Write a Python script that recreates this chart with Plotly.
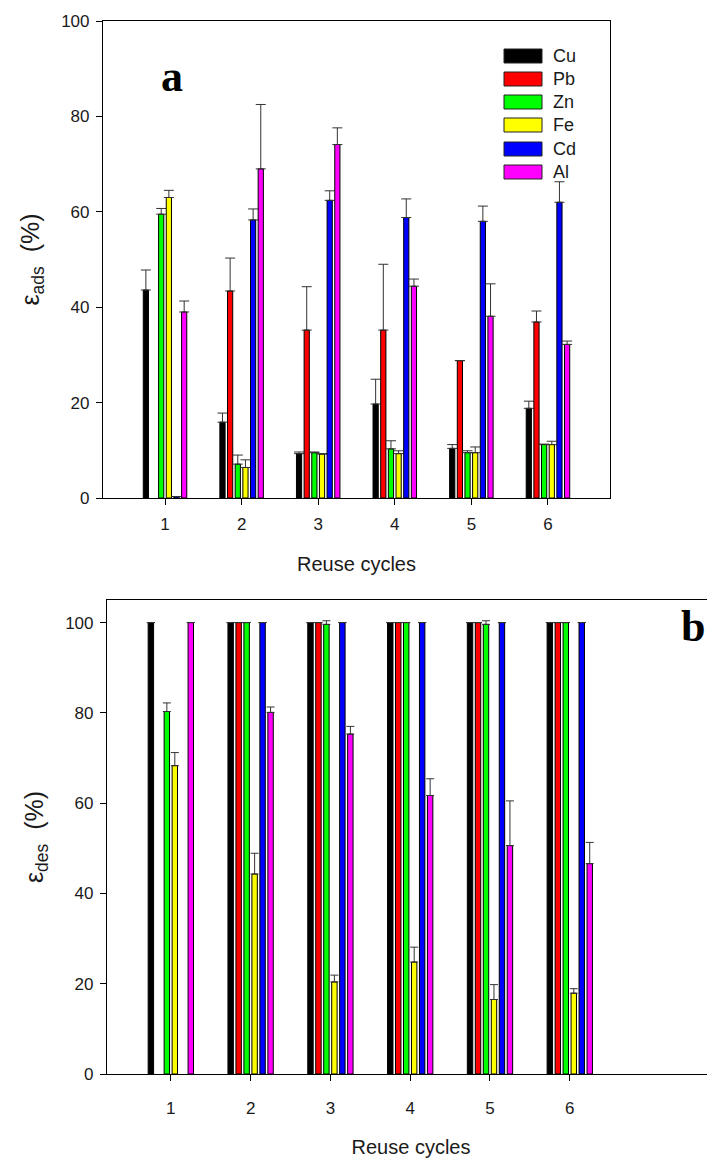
import plotly.graph_objects as go

# The page body has an 8px default margin, so the figure is sized to fit the window.
OFF = 8
W, H = 715 - OFF, 1158 - OFF

cycles = [1, 2, 3, 4, 5, 6]
metals = ["Cu", "Pb", "Zn", "Fe", "Cd", "Al"]
colors = ["#000000", "#FF0000", "#00FF00", "#FFFF00", "#0000FF", "#FF00FF"]

# Panel a: adsorption efficiency (%)
ads_Cu = [43.6, 15.9, 9.3, 19.7, 10.4, 18.8]
ads_Pb = [None, 43.4, 35.2, 35.2, 28.8, 36.9]
ads_Zn = [59.5, 7.1, 9.5, 10.3, 9.5, 11.2]
ads_Fe = [63.0, 6.4, 9.2, 9.3, 9.5, 11.2]
ads_Cd = [0.3, 58.3, 62.4, 58.8, 58.0, 62.0]
ads_Al = [39.0, 69.0, 74.1, 44.4, 38.1, 32.2]

ads_err_Cu = [4.2, 1.9, 0.35, 5.2, 0.8, 1.5]
ads_err_Pb = [None, 6.9, 9.1, 13.8, None, 2.3]
ads_err_Zn = [1.2, 1.9, 0.15, 1.7, 0.4, 0.1]
ads_err_Fe = [1.5, 1.6, 0.1, 0.6, 1.2, 0.7]
ads_err_Cd = [None, 2.3, 2.0, 3.9, 3.2, 4.3]
ads_err_Al = [2.3, 13.5, 3.5, 1.5, 6.8, 0.7]

# Panel b: desorption efficiency (%)
des_Cu = [100, 100, 100, 100, 100, 100]
des_Pb = [None, 100, 100, 100, 100, 100]
des_Zn = [80.3, 100, 99.6, 100, 99.6, 100]
des_Fe = [68.3, 44.3, 20.4, 24.8, 16.5, 17.9]
des_Cd = [None, 100, 100, 100, 100, 100]
des_Al = [100, 80.1, 75.3, 61.7, 50.6, 46.6]

des_err_Cu = [None] * 6
des_err_Pb = [None] * 6
des_err_Zn = [1.9, None, 0.8, None, 0.8, None]
des_err_Fe = [2.9, 4.6, 1.5, 3.3, 3.3, 1.0]
des_err_Cd = [None] * 6
des_err_Al = [None, 1.2, 1.7, 3.7, 9.9, 4.7]

ads = [ads_Cu, ads_Pb, ads_Zn, ads_Fe, ads_Cd, ads_Al]
ads_err = [ads_err_Cu, ads_err_Pb, ads_err_Zn, ads_err_Fe, ads_err_Cd, ads_err_Al]
des = [des_Cu, des_Pb, des_Zn, des_Fe, des_Cd, des_Al]
des_err = [des_err_Cu, des_err_Pb, des_err_Zn, des_err_Fe, des_err_Cd, des_err_Al]

yticks_a = [0, 20, 40, 60, 80, 100]
yticks_b = [0, 20, 40, 60, 80, 100]

FONT = "Liberation Sans, Arial, sans-serif"
SERIF = "Liberation Serif, Times New Roman, serif"
TXT = "#1a1a1a"

fig = go.Figure()

for name, col, vals, errs in zip(metals, colors, ads, ads_err):
    fig.add_trace(go.Bar(
        x=cycles, y=vals, name=name, xaxis="x", yaxis="y",
        marker=dict(color=col, line=dict(color="#000000", width=1)),
        error_y=dict(type="data", array=errs, symmetric=False, arrayminus=[0] * 6,
                     color="#333333", thickness=1, width=5, visible=True),
        showlegend=False,
    ))

for name, col, vals, errs in zip(metals, colors, des, des_err):
    fig.add_trace(go.Bar(
        x=cycles, y=vals, name=name, xaxis="x2", yaxis="y2",
        marker=dict(color=col, line=dict(color="#000000", width=1)),
        error_y=dict(type="data", array=errs, symmetric=False, arrayminus=[0] * 6,
                     color="#333333", thickness=1, width=4, visible=True),
        showlegend=False,
    ))

def px_x(p):
    return (p - OFF) / W

def px_y(p):
    return 1 - (p - OFF) / H

axis_common = dict(showline=True, linecolor="#000000", linewidth=1.2,
                   ticks="outside", ticklen=6, tickcolor="#000000", tickwidth=1,
                   showgrid=False, zeroline=False, automargin=False,
                   tickfont=dict(family=FONT, size=17, color=TXT))

xtitle_font = dict(family=FONT, size=20, color=TXT)
ytitle_font = dict(family=FONT, size=25, color=TXT)

fig.update_layout(
    template="none",
    width=W, height=H,
    margin=dict(l=0, r=0, t=0, b=0, pad=0),
    paper_bgcolor="white", plot_bgcolor="white",
    barmode="group", bargap=0.4, bargroupgap=0.32,
    showlegend=False,
    xaxis=dict(domain=[px_x(103), px_x(610)], anchor="y", range=[0.19, 6.81],
               tickvals=cycles, mirror=True, ticklabelstandoff=4,
               title=dict(text="Reuse cycles", font=xtitle_font, standoff=24),
               **axis_common),
    yaxis=dict(domain=[px_y(498), px_y(21)], anchor="x", range=[0, 100],
               tickvals=yticks_a, mirror=True, ticklabelstandoff=3,
               title=dict(text="ε<sub>ads</sub>  (%)", font=ytitle_font, standoff=14),
               **axis_common),
    xaxis2=dict(domain=[px_x(107), 1.0], anchor="y2", range=[0.2, 7.82],
                tickvals=cycles, mirror=True, ticklabelstandoff=12,
                title=dict(text="Reuse cycles", font=xtitle_font, standoff=24),
                **axis_common),
    yaxis2=dict(domain=[px_y(1074), px_y(600)], anchor="x2", range=[0, 105],
                tickvals=yticks_b, mirror=False, ticklabelstandoff=3,
                title=dict(text="ε<sub>des</sub>  (%)", font=ytitle_font, standoff=14),
                **axis_common),
)

# Legend drawn as wide boxes (panel a)
row_y = [56, 79, 102, 125, 149, 172]
shapes = []
annotations = []
for name, col, yc in zip(metals, colors, row_y):
    shapes.append(dict(type="rect", xref="paper", yref="paper",
                       x0=px_x(504), x1=px_x(542), y0=px_y(yc + 7), y1=px_y(yc - 7),
                       fillcolor=col, line=dict(color="#222222", width=1)))
    annotations.append(dict(text=name, xref="paper", yref="paper",
                            x=px_x(551), y=px_y(yc), xanchor="left", yanchor="middle",
                            showarrow=False, font=dict(family=FONT, size=18, color=TXT)))

annotations.append(dict(text="<b>a</b>", xref="paper", yref="paper", x=px_x(172), y=px_y(76),
                        xanchor="center", yanchor="middle", showarrow=False,
                        font=dict(family=SERIF, size=44, color="#000000")))
annotations.append(dict(text="<b>b</b>", xref="paper", yref="paper", x=px_x(693), y=px_y(626),
                        xanchor="center", yanchor="middle", showarrow=False,
                        font=dict(family=SERIF, size=44, color="#000000")))

fig.update_layout(shapes=shapes, annotations=annotations)

fig.write_html("out.html")
